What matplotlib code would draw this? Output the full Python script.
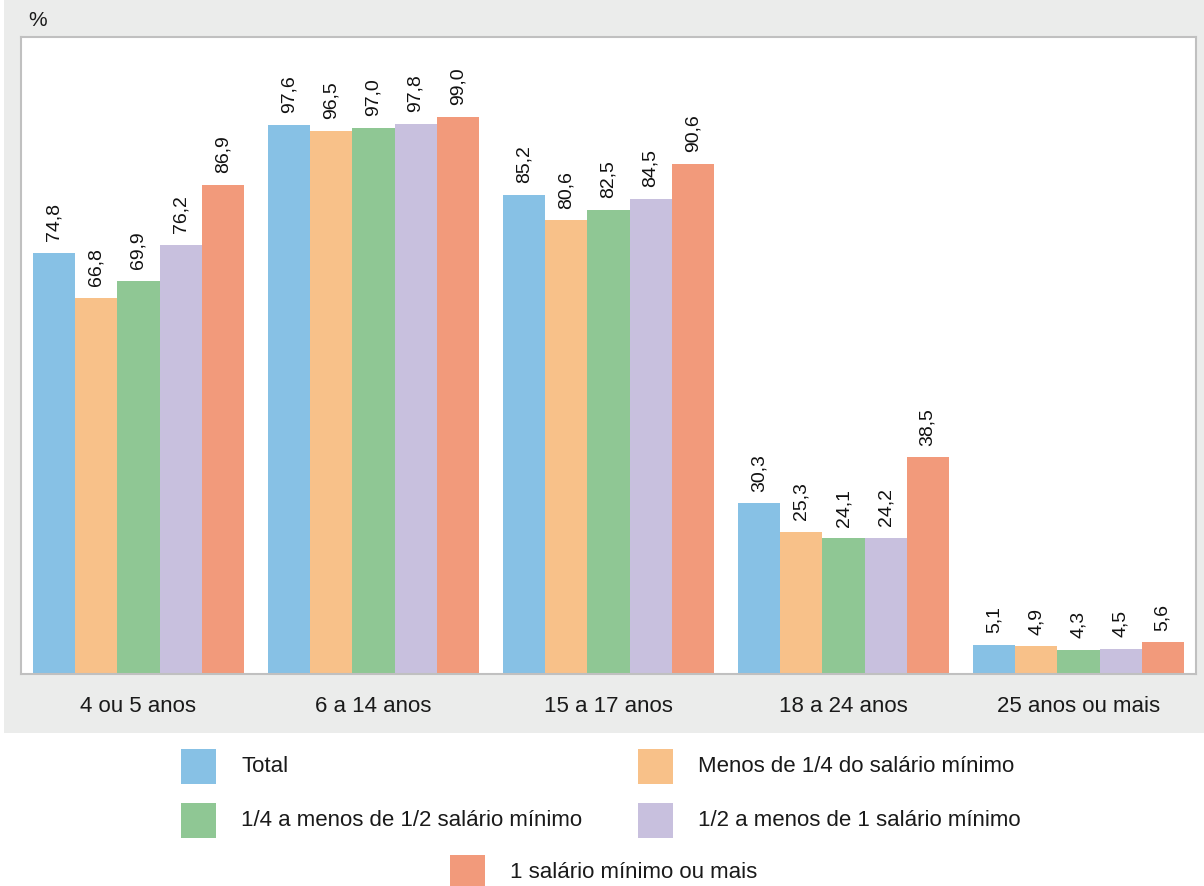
import matplotlib
matplotlib.use("Agg")
import matplotlib.pyplot as plt
from matplotlib.patches import Rectangle
import numpy as np

plt.rcParams['font.family'] = ['Liberation Sans', 'DejaVu Sans']

categories = ["4 ou 5 anos", "6 a 14 anos", "15 a 17 anos", "18 a 24 anos", "25 anos ou mais"]
series_names = ["Total", "Menos de 1/4 do salário mínimo", "1/4 a menos de 1/2 salário mínimo",
                "1/2 a menos de 1 salário mínimo", "1 salário mínimo ou mais"]
total = [74.8, 97.6, 85.2, 30.3, 5.1]
menos_quarto = [66.8, 96.5, 80.6, 25.3, 4.9]
quarto_meio = [69.9, 97.0, 82.5, 24.1, 4.3]
meio_um = [76.2, 97.8, 84.5, 24.2, 4.5]
um_mais = [86.9, 99.0, 90.6, 38.5, 5.6]
series = [total, menos_quarto, quarto_meio, meio_um, um_mais]
colors = ["#87c1e5", "#f8c189", "#8fc794", "#c8c0de", "#f29a7b"]

W, H = 1204, 886
fig = plt.figure(figsize=(W / 100, H / 100), dpi=100)
fig.patch.set_facecolor("white")
# grey panel
fig.patches.append(Rectangle((4 / W, 1 - 733 / H), 1 - 4 / W, 733 / H,
                             transform=fig.transFigure, facecolor="#ebeceb",
                             edgecolor="none", zorder=-10))

ax = fig.add_axes([21 / W, 1 - 674 / H, 1175 / W, (674 - 37) / H])
ax.set_zorder(1)
ax.set_facecolor("white")
x = np.arange(len(categories))
bw = 0.179
for i, (vals, c) in enumerate(zip(series, colors)):
    pos = x + (i - 2) * bw
    ax.bar(pos, vals, width=bw, color=c, edgecolor="none", zorder=2)
    for p, v in zip(pos, vals):
        ax.text(p, v + 2.1, f"{v:.1f}".replace(".", ","), rotation=90,
                ha="center", va="bottom", fontsize=14, color="#111111")

ax.set_xlim(-0.5, len(categories) - 0.5)
ax.set_ylim(0, 113.2)
ax.set_yticks([])
ax.set_xticks(x)
ax.set_xticklabels(categories, fontsize=16, color="#1a1a1a")
ax.tick_params(axis="x", length=0, pad=16)
for s in ax.spines.values():
    s.set_color("#c0c0c0")
    s.set_linewidth(1.5)

fig.text(28 / W, 1 - 20 / H, "%", fontsize=15, ha="left", va="center", color="#1a1a1a")

# legend
legend_pos = [(181, 766), (638, 766), (181, 820), (638, 820), (450, 872)]
for (lx, ly), name, c in zip(legend_pos, series_names, colors):
    sz = 35
    fig.patches.append(Rectangle((lx / W, 1 - (ly + sz / 2) / H), sz / W, sz / H,
                                 transform=fig.transFigure, facecolor=c, edgecolor="none"))
    fig.text((lx + 60) / W, 1 - ly / H, name, fontsize=16, ha="left", va="center",
             color="#1a1a1a")

fig.savefig("out.png", dpi=100)
